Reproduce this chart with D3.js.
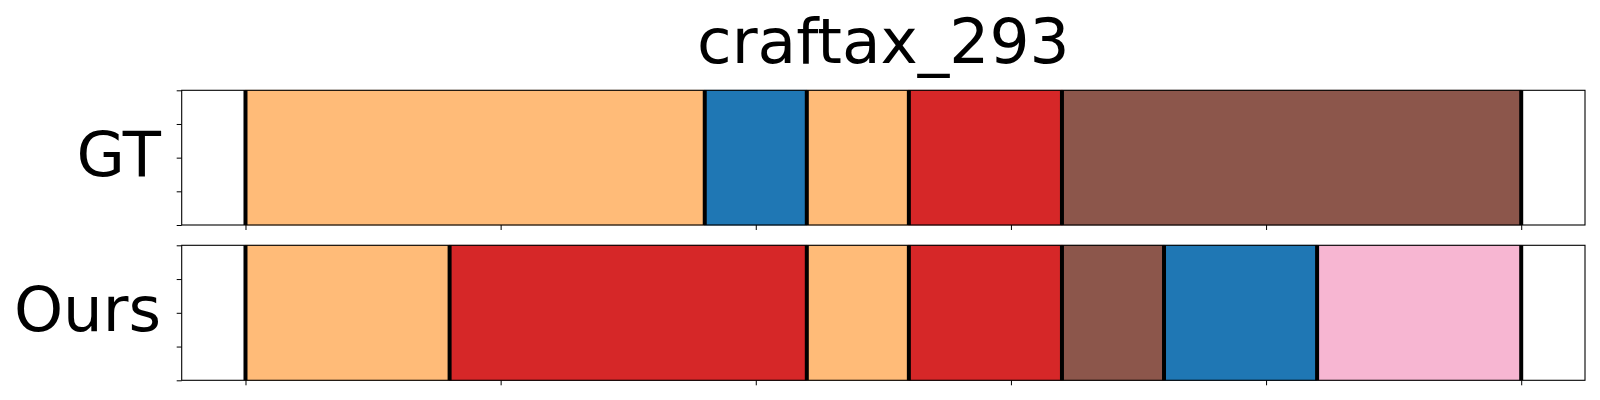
<!DOCTYPE html>
<html>
<head>
<meta charset="utf-8">
<script src="https://cdn.jsdelivr.net/npm/d3@7"></script>
<style>
  html, body { margin: 0; padding: 0; background: #fff; }
  svg { display: block; }
  text { font-family: "DejaVu Sans", sans-serif; fill: #000; }
</style>
</head>
<body>
<svg id="chart" width="1600" height="400"></svg>
<script>
// ---- data ----
const title = "craftax_293";
const rowLabels = ["GT", "Ours"];
const gtStarts = [0, 180, 220, 260, 320];
const gtEnds   = [180, 220, 260, 320, 500];
const gtActions = ["orange", "blue", "orange", "red", "brown"];
const oursStarts = [0, 80, 220, 260, 320, 360, 420];
const oursEnds   = [80, 220, 260, 320, 360, 420, 500];
const oursActions = ["orange", "red", "orange", "red", "brown", "blue", "pink"];
const actionNames = ["orange", "blue", "red", "brown", "pink"];
const actionColors = ["#ffbb78", "#1f77b4", "#d62728", "#8c564b", "#f7b6d2"];
const xDomain = [-25, 525];
const xTicks = [0, 100, 200, 300, 400, 500];
const yTicks = [0, 0.25, 0.5, 0.75, 1];

// ---- layout ----
const svg = d3.select("#chart");
const left = 181.7, right = 1585;
const panels = [
  { label: rowLabels[0], starts: gtStarts, ends: gtEnds, acts: gtActions, top: 90.3, bottom: 225 },
  { label: rowLabels[1], starts: oursStarts, ends: oursEnds, acts: oursActions, top: 245.3, bottom: 380.3 }
];
const x = d3.scaleLinear().domain(xDomain).range([left, right]);
const color = d3.scaleOrdinal().domain(actionNames).range(actionColors);

svg.append("text")
  .attr("x", (left + right) / 2)
  .attr("y", 62.5)
  .attr("text-anchor", "middle")
  .style("font-size", "63px")
  .text(title);

panels.forEach(p => {
  const y = d3.scaleLinear().domain([0, 1]).range([p.bottom, p.top]);
  const g = svg.append("g");
  const segs = p.starts.map((s, i) => ({ s, e: p.ends[i], a: p.acts[i] }));

  g.selectAll("rect.seg").data(segs).enter().append("rect")
    .attr("class", "seg")
    .attr("x", d => x(d.s))
    .attr("y", y(1))
    .attr("width", d => x(d.e) - x(d.s))
    .attr("height", y(0) - y(1))
    .attr("fill", d => color(d.a))
    .attr("stroke", d => d3.color(color(d.a)).darker(0.4))
    .attr("stroke-width", 0.8);

  const bounds = p.starts.concat([p.ends[p.ends.length - 1]]);
  g.selectAll("line.bd").data(bounds).enter().append("line")
    .attr("x1", d => x(d)).attr("x2", d => x(d))
    .attr("y1", y(1)).attr("y2", y(0))
    .attr("stroke", "#000").attr("stroke-width", 4);

  // axes
  const xAxis = d3.axisBottom(x).tickValues(xTicks).tickFormat("").tickSize(5).tickSizeOuter(0);
  const gx = g.append("g").attr("transform", `translate(0,${p.bottom})`).call(xAxis);
  gx.select(".domain").remove();
  gx.selectAll(".tick line").attr("stroke", "#000").attr("stroke-width", 1);

  const yAxis = d3.axisLeft(y).tickValues(yTicks).tickFormat("").tickSize(5).tickSizeOuter(0);
  const gy = g.append("g").attr("transform", `translate(${left},0)`).call(yAxis);
  gy.select(".domain").remove();
  gy.selectAll(".tick line").attr("stroke", "#000").attr("stroke-width", 1);

  g.append("rect")
    .attr("x", left).attr("y", p.top)
    .attr("width", right - left).attr("height", p.bottom - p.top)
    .attr("fill", "none").attr("stroke", "#000").attr("stroke-width", 1.1);

  svg.append("text")
    .attr("x", 161)
    .attr("y", (p.top + p.bottom) / 2 + 18)
    .attr("text-anchor", "end")
    .style("font-size", "62.5px")
    .text(p.label);
});
</script>
</body>
</html>
